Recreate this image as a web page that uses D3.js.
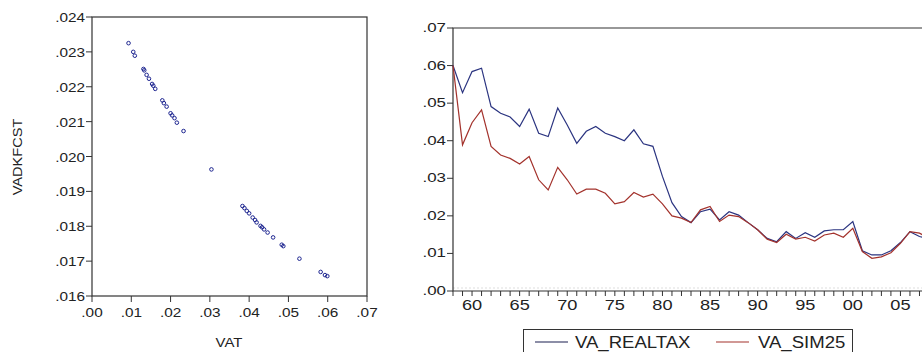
<!DOCTYPE html>
<html>
  <head>
    <meta charset="utf-8">
    <title>VAT charts</title>
    <script src="https://d3js.org/d3.v7.min.js"></script>
    <style>
body { margin: 0; background: #fff; }
svg text { font-family: "Liberation Sans", Arial, sans-serif; fill: #222; }
    </style>
  </head>
  <body>
<script>

// scatter: VAT vs VADKFCST
var vat = [0.0093, 0.0105, 0.0109, 0.0131, 0.0133, 0.0139, 0.0145, 0.0153, 0.0156, 0.0161,
           0.0179, 0.0183, 0.0190, 0.0200, 0.0204, 0.0210, 0.0216, 0.0233, 0.0304, 0.0383,
           0.0388, 0.0394, 0.0400, 0.0409, 0.0415, 0.0419, 0.0429, 0.0433, 0.0438, 0.0447,
           0.0461, 0.0483, 0.0487, 0.0528, 0.0582, 0.0593, 0.0599];
var vadkfcst = [0.02325, 0.02300, 0.02289, 0.02251, 0.02247, 0.02234, 0.02223, 0.02208, 0.02203, 0.02194,
                0.02161, 0.02153, 0.02143, 0.02124, 0.02118, 0.02110, 0.02097, 0.02073, 0.01963, 0.01858,
                0.01852, 0.01844, 0.01837, 0.01825, 0.01818, 0.01811, 0.01801, 0.01797, 0.01791, 0.01782,
                0.01768, 0.01747, 0.01743, 0.01707, 0.01669, 0.01660, 0.01657];
var scatterXTicks = [0, 0.01, 0.02, 0.03, 0.04, 0.05, 0.06, 0.07];
var scatterYTicks = [0.016, 0.017, 0.018, 0.019, 0.020, 0.021, 0.022, 0.023, 0.024];

// line chart: yearly series 1958-2008
var years = d3.range(1958, 2009);
var vaRealtax = [0.0600, 0.0528, 0.0584, 0.0593, 0.0491, 0.0473, 0.0463, 0.0438, 0.0484, 0.0420,
                 0.0411, 0.0487, 0.0442, 0.0393, 0.0425, 0.0438, 0.0420, 0.0411, 0.0400, 0.0429,
                 0.0392, 0.0385, 0.0305, 0.0235, 0.0198, 0.0182, 0.0211, 0.0218, 0.0189, 0.0211,
                 0.0202, 0.0182, 0.0163, 0.0140, 0.0131, 0.0158, 0.0140, 0.0155, 0.0143, 0.0160,
                 0.0163, 0.0163, 0.0185, 0.0107, 0.0096, 0.0096, 0.0107, 0.0129, 0.0158, 0.0145,
                 0.0138];
var vaSim25 = [0.0600, 0.0389, 0.0448, 0.0482, 0.0385, 0.0362, 0.0353, 0.0338, 0.0358, 0.0296,
               0.0269, 0.0329, 0.0296, 0.0258, 0.0271, 0.0271, 0.0260, 0.0232, 0.0238, 0.0262,
               0.0250, 0.0258, 0.0232, 0.0200, 0.0194, 0.0182, 0.0216, 0.0225, 0.0185, 0.0202,
               0.0198, 0.0182, 0.0163, 0.0138, 0.0129, 0.0151, 0.0138, 0.0143, 0.0133, 0.0149,
               0.0154, 0.0143, 0.0167, 0.0105, 0.0087, 0.0091, 0.0102, 0.0127, 0.0158, 0.0154,
               0.0140];
var lineYTicks = [0, 0.01, 0.02, 0.03, 0.04, 0.05, 0.06, 0.07];
var lineXLabelYears = [1960, 1965, 1970, 1975, 1980, 1985, 1990, 1995, 2000, 2005];
var seriesNames = ["VA_REALTAX", "VA_SIM25"];

var width = 922,
    height = 352,
    axisColor = "#333",
    blue = "#2b3480",
    red = "#a3322c";

var svg = d3.select("body").append("svg")
    .attr("width", width)
    .attr("height", height);

// the picture is a bit wider than tall, so labels are stretched sideways
function label(g, x, y, txt, size, sx, anchor) {
  return g.append("text")
    .attr("transform", "translate(" + x + "," + y + ") scale(" + sx + ",1)")
    .attr("text-anchor", anchor || "middle")
    .style("font-size", size + "px")
    .text(txt);
}

function fmt(v, digits) {
  return d3.format("." + digits + "f")(v).replace(/^0/, "");
}

// ---------- scatter ----------
var sx = d3.scaleLinear().domain([0, 0.07]).range([92, 367]);
var sy = d3.scaleLinear().domain([0.016, 0.024]).range([296, 17]);
var sg = svg.append("g");

sg.append("rect")
  .attr("x", sx(0)).attr("y", sy(0.024))
  .attr("width", sx(0.07) - sx(0)).attr("height", sy(0.016) - sy(0.024))
  .attr("fill", "none").attr("stroke", axisColor).attr("stroke-width", 1.2);

scatterYTicks.forEach(function (t) {
  sg.append("line")
    .attr("x1", sx(0) - 6).attr("x2", sx(0))
    .attr("y1", sy(t)).attr("y2", sy(t))
    .attr("stroke", axisColor);
  label(sg, sx(0) - 7, sy(t) + 5, fmt(t, 3), 13, 1.18, "end");
});
scatterXTicks.forEach(function (t) {
  sg.append("line")
    .attr("x1", sx(t)).attr("x2", sx(t))
    .attr("y1", sy(0.016)).attr("y2", sy(0.016) + 6)
    .attr("stroke", axisColor);
  label(sg, sx(t), 317, fmt(t, 2), 13, 1.18);
});

label(sg, 229, 347, "VAT", 13, 1.15);
sg.append("text")
  .attr("transform", "translate(22,157) rotate(-90) scale(1.12,1)")
  .attr("text-anchor", "middle")
  .style("font-size", "13px")
  .text("VADKFCST");

sg.selectAll("circle.pt")
  .data(d3.zip(vat, vadkfcst))
  .join("circle")
    .attr("class", "pt")
    .attr("cx", function (d) { return sx(d[0]); })
    .attr("cy", function (d) { return sy(d[1]); })
    .attr("r", 1.8)
    .attr("fill", "none")
    .attr("stroke", "#1d2590")
    .attr("stroke-width", 1);

// ---------- line chart ----------
var lx = d3.scaleLinear().domain([1958, 2008]).range([453, 929]);
var ly = d3.scaleLinear().domain([0, 0.07]).range([291, 28]);
var lg = svg.append("g");

// faint dotted zero guide EViews draws above the axis
lg.append("line")
  .attr("x1", lx(1958)).attr("x2", width)
  .attr("y1", ly(0) - 3).attr("y2", ly(0) - 3)
  .attr("stroke", "#ddd").attr("stroke-dasharray", "2,2");

lg.append("path")
  .attr("d", "M" + width + "," + ly(0.07) + "H" + lx(1958) + "V" + ly(0) + "H" + width)
  .attr("fill", "none").attr("stroke", axisColor).attr("stroke-width", 1.2);

lineYTicks.forEach(function (t) {
  lg.append("line")
    .attr("x1", lx(1958) - 6).attr("x2", lx(1958))
    .attr("y1", ly(t)).attr("y2", ly(t))
    .attr("stroke", axisColor);
  label(lg, lx(1958) - 7, ly(t) + 4, fmt(t, 2), 13, 1.3, "end");
});
years.forEach(function (yr) {
  lg.append("line")
    .attr("x1", lx(yr)).attr("x2", lx(yr))
    .attr("y1", ly(0)).attr("y2", ly(0) + 5)
    .attr("stroke", axisColor);
});
lineXLabelYears.forEach(function (yr) {
  label(lg, lx(yr), 310, String(yr).slice(2), 14, 1.3);
});

var line = d3.line()
  .x(function (d) { return lx(d[0]); })
  .y(function (d) { return ly(d[1]); });

lg.append("path")
  .datum(d3.zip(years, vaRealtax))
  .attr("d", line)
  .attr("fill", "none").attr("stroke", blue).attr("stroke-width", 1.2);
lg.append("path")
  .datum(d3.zip(years, vaSim25))
  .attr("d", line)
  .attr("fill", "none").attr("stroke", red).attr("stroke-width", 1.2);

// legend
var leg = svg.append("g");
leg.append("rect")
  .attr("x", 523.5).attr("y", 329.5)
  .attr("width", 329).attr("height", 40)
  .attr("fill", "#fff").attr("stroke", axisColor);
[[535, 575, blue], [716, 758, red]].forEach(function (p, i) {
  leg.append("line")
    .attr("x1", p[0]).attr("x2", p[0] + 33)
    .attr("y1", 342).attr("y2", 342)
    .attr("stroke", i === 0 ? "#1a1f50" : p[2]).attr("stroke-width", 1.2);
  label(leg, p[1], 348, seriesNames[i], 16, 1.16, "start");
});

</script>
  </body>
</html>
